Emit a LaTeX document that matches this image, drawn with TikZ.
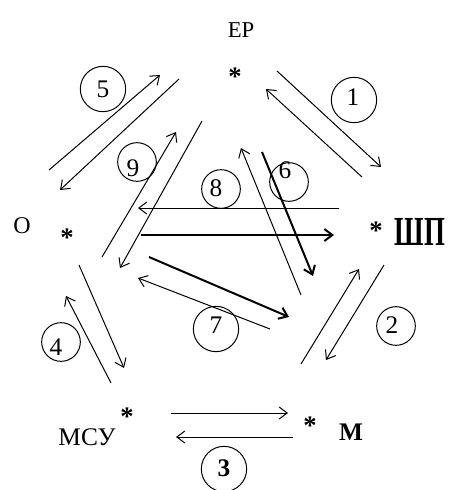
\documentclass[tikz,border=0pt]{standalone}
\usepackage{fontspec}
\setmainfont{Liberation Serif}
\usetikzlibrary{arrows.meta}
\tikzset{
 >={Straight Barb[length=6pt,width=9pt]},
 link/.style={->,line width=0.75pt},
 heavy/.style={->,line width=1.5pt},
 ring/.style={draw,shape=circle,line width=0.75pt,inner sep=0pt},
 bigring/.style={ring,minimum size=34pt},
 smallring/.style={ring,minimum size=29pt},
 digit/.style={inner sep=0pt,font=\fontsize{19}{19}\selectfont},
 star/.style={inner sep=0pt,font=\fontsize{20}{20}\selectfont\bfseries}
}

\begin{document}
\begin{tikzpicture}[x=0.75pt,y=-0.75pt]
\useasboundingbox (0,0) rectangle (451,490);

% vertices
\path (235,77) node[star,name=sep] {*};
\path (67,238) node[star,name=so] {*};
\path (376,231) node[star,name=sshp] {*};
\path (127,417) node[star,name=smsu] {*};
\path (310,426) node[star,name=sm] {*};

\path (241,30) node[font=\fontsize{17}{17}\selectfont,name=ep] {ЕР};
\path (22,226) node[font=\fontsize{18}{18}\selectfont,name=o] {О};
\path (420,232) node[font=\fontsize{31}{31}\selectfont\bfseries,name=shp] {\scalebox{0.65}[1]{ШП}};
\path (87,437) node[font=\fontsize{19}{19}\selectfont,name=msu] {МСУ};
\path (351,432) node[font=\fontsize{19}{19}\selectfont\bfseries,name=m] {М};

% arrow ends
\path (277,71) coordinate[name=a1]; \path (381,167) coordinate[name=b1];
\path (362,177) coordinate[name=c1]; \path (266,89) coordinate[name=d1];
\path (301,364) coordinate[name=a2]; \path (359,269) coordinate[name=b2];
\path (384,265) coordinate[name=c2]; \path (326,360) coordinate[name=d2];
\path (171,413) coordinate[name=a3]; \path (288,413) coordinate[name=b3];
\path (293,437) coordinate[name=c3]; \path (176,437) coordinate[name=d3];
\path (111,383) coordinate[name=a4]; \path (66,296) coordinate[name=b4];
\path (79,265) coordinate[name=c4]; \path (124,368) coordinate[name=d4];
\path (49,170) coordinate[name=a5]; \path (160,75) coordinate[name=b5];
\path (179,79) coordinate[name=c5]; \path (60,190) coordinate[name=d5];
\path (301,295) coordinate[name=a6]; \path (241,148) coordinate[name=b6];
\path (262,152) coordinate[name=c6]; \path (313,276) coordinate[name=d6];
\path (149,257) coordinate[name=a7]; \path (289,317) coordinate[name=b7];
\path (270,329) coordinate[name=c7]; \path (138,278) coordinate[name=d7];
\path (339,208) coordinate[name=a8]; \path (138,208) coordinate[name=b8];
\path (141,235) coordinate[name=c8]; \path (334,235) coordinate[name=d8];
\path (102,257) coordinate[name=a9]; \path (176,132) coordinate[name=b9];
\path (202,121) coordinate[name=c9]; \path (120,268) coordinate[name=d9];

\path[link] (a1) edge (b1) (c1) edge (d1);
\path[link] (a2) edge (b2) (c2) edge (d2);
\path[link] (a3) edge (b3) (c3) edge (d3);
\path[link] (a4) edge (b4) (c4) edge (d4);
\path[link] (a5) edge (b5) (c5) edge (d5);
\path[link] (a6) edge (b6);
\path[heavy] (c6) edge (d6);
\path[heavy] (a7) edge (b7);
\path[link] (c7) edge (d7);
\path[link] (a8) edge (b8);
\path[heavy] (c8) edge (d8);
\path[link] (a9) edge (b9) (c9) edge (d9);

% numbered rings
\path (354,100) node[bigring,name=n1,label={[digit,shift={(-1,-3)}]center:1}] {};
\path (396,326) node[smallring,name=n2,label={[digit,shift={(-4,-1)}]center:2}] {};
\path (224,469) node[bigring,name=n3,label={[digit,font=\fontsize{19}{19}\selectfont\bfseries,shift={(0,-1)}]center:3}] {};
\path (61,342) node[smallring,name=n4,label={[digit,shift={(-5,5)}]center:4}] {};
\path (103,89) node[bigring,name=n5,label={[digit]center:5}] {};
\path (289,182) node[smallring,name=n6,label={[digit,shift={(-4,-12)}]center:6}] {};
\path (216,329) node[bigring,name=n7,label={[digit,shift={(0,-4)}]center:7}] {};
\path (221,189) node[smallring,name=n8,label={[digit,shift={(-5,-1)}]center:8}] {};
\path (137,162) node[smallring,name=n9,label={[digit,shift={(-4,6)}]center:9}] {};
\end{tikzpicture}
\end{document}
